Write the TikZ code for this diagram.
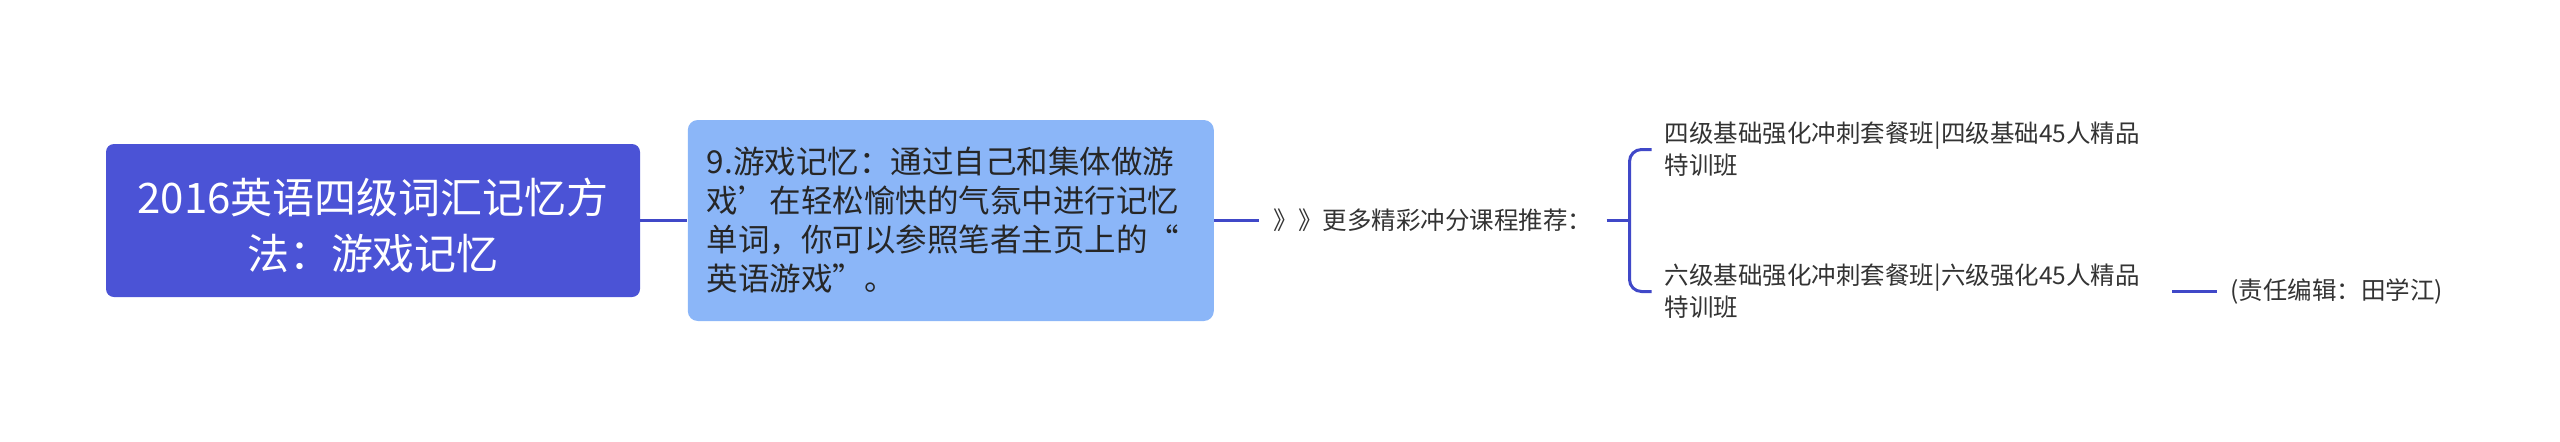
\documentclass[tikz,border=0pt]{standalone}
\usepackage{fontspec}
\setmainfont{Noto Sans CJK SC}
\newfontfamily\fwq[RawFeature=+fwid]{Noto Sans CJK SC}
\usepackage{tikz}
\usepackage{xcolor}
\usetikzlibrary{positioning}
\definecolor{rootblue}{HTML}{4B53D6}
\definecolor{topicblue}{HTML}{8BB6F8}
\definecolor{linkblue}{HTML}{4048C8}
\definecolor{leaftext}{HTML}{333333}
\newcommand{\qt}[1]{{\fwq #1}}

\begin{document}
\begin{tikzpicture}[node distance=22.5pt,
    root/.style={rectangle, rounded corners=4pt, fill=rootblue, text=white, align=center, minimum width=267pt, minimum height=76.5pt, font=\fontsize{21pt}{28pt}\selectfont},
    topic/.style={rectangle, rounded corners=5pt, fill=topicblue, text=black!85, align=left, text width=244pt, inner xsep=9.5pt, minimum height=100.5pt, font=\fontsize{15.75pt}{19.5pt}\selectfont},
    leaf/.style={inner xsep=6.5pt, inner ysep=2pt, align=left, text=leaftext, font=\fontsize{12.25pt}{16pt}\selectfont},
    link/.style={draw=linkblue, line width=1.5pt}]

            \useasboundingbox (0,0) rectangle (1280pt,-220.5pt);

            \node[root] (R) at (186.5pt,-110.25pt) {\rule{0pt}{23pt}2016英语四级词汇记忆方\\法：游戏记忆};
            \node[topic, right=23.5pt of R] (T) {9.游戏记忆：通过自己和集体做游\\戏\qt{’}在轻松愉快的气氛中进行记忆\\单词，你可以参照笔者主页上的\qt{“}\\英语游戏\qt{”}。};
            \node[leaf, right=of T, inner xsep=7pt] (M) {》》更多精彩冲分课程推荐：};
            \node[leaf, right=of M.east, yshift=35.5pt] (C1) {四级基础强化冲刺套餐班|四级基础45人精品\\特训班};
            \node[leaf, right=of M.east, yshift=-35.5pt] (C2) {六级基础强化冲刺套餐班|六级强化45人精品\\特训班};
            \node[leaf, right=32pt of C2.east] (E) {(责任编辑：田学江)};

            \coordinate[right=11.5pt of M.east] (fork);

            \path[link]
            (R) edge (T)
            (T) edge (M)
            (M.east) edge (fork)
            (C2) edge[shorten <=9.5pt] (E)
            ;
            \draw[link, rounded corners=6pt] (C1.west) -| (fork) |- (C2.west);

        \end{tikzpicture}
\end{document}
